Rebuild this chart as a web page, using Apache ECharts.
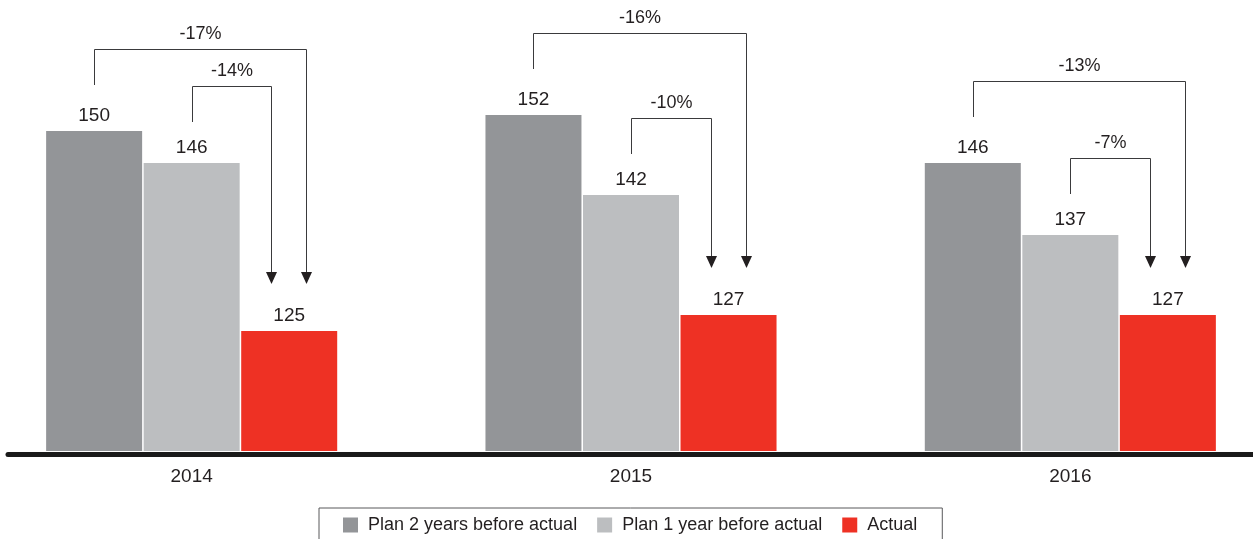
<!DOCTYPE html>
<html>
<head>
<meta charset="utf-8">
<title>Plan vs actual</title>
<script src="https://cdn.jsdelivr.net/npm/echarts@6/dist/echarts.min.js"></script>
<style>
  html, body { margin: 0; padding: 0; background: #fff; }
  #chart { width: 1253px; height: 539px; }
</style>
</head>
<body>
<div id="chart"></div>
<script>
// data
const years = ['2014', '2015', '2016']
const plan2Years = [150, 152, 146]
const plan1Year = [146, 142, 137]
const actual = [125, 127, 127]
const outerDelta = ['-17%', '-16%', '-13%']
const innerDelta = ['-14%', '-10%', '-7%']
const seriesNames = ['Plan 2 years before actual', 'Plan 1 year before actual', 'Actual']

const FONT = '"Liberation Sans", Arial, sans-serif'
const TEXT = '#231f20'
const LINE = '#3a3a3c'
const BAR_W = 96
const BAR_GAP = '1.6%'
const STEP = BAR_W * 1.016

const bracketData = years.map((y, i) => [i, plan2Years[i], plan1Year[i], actual[i]])

const crisp = v => Math.round(v) + 0.5

function bracket(x0, yStart, yTop, x1, yTip, text) {
  const a = crisp(x0)
  const b = crisp(x1)
  const top = crisp(yTop)
  return [{
    type: 'polyline',
    shape: { points: [[a, yStart], [a, top], [b, top], [b, yTip - 11]] },
    style: { stroke: LINE, lineWidth: 1, fill: null }
  }, {
    type: 'polygon',
    shape: { points: [[b, yTip], [b - 5.5, yTip - 12], [b + 5.5, yTip - 12]] },
    style: { fill: TEXT }
  }, {
    type: 'text',
    style: {
      text: text,
      x: (a + b) / 2,
      y: top - 15,
      align: 'center',
      verticalAlign: 'middle',
      font: '18px ' + FONT,
      fill: TEXT
    }
  }]
}

function renderBrackets(params, api) {
  const i = api.value(0)
  const cx = api.coord([i, 130])[0]
  const yP2 = api.coord([i, api.value(1)])[1]
  const yP1 = api.coord([i, api.value(2)])[1]
  const yAct = api.coord([i, api.value(3)])[1]
  const xP2 = cx - STEP
  const xAct = cx + STEP
  const tip = yAct - 47
  return {
    type: 'group',
    children: [
      ...bracket(xP2, yP2 - 46, yP2 - 82, xAct + 17, tip, outerDelta[i]),
      ...bracket(cx, yP1 - 41, yP1 - 77, xAct - 18, tip, innerDelta[i])
    ]
  }
}

const barLabel = {
  show: true,
  position: 'top',
  distance: 6,
  fontFamily: FONT,
  fontSize: 19,
  color: TEXT
}

const chart = echarts.init(document.getElementById('chart'), null, { renderer: 'canvas' })

chart.setOption({
  animation: false,
  backgroundColor: '#fff',
  color: ['#939598', '#bcbec0', '#ee3124'],
  grid: [{
    left: -28,
    right: -37,
    top: 51,
    bottom: 88,
    outerBoundsMode: 'none'
  }, {
    left: 8,
    right: 0,
    top: 51,
    bottom: 85,
    outerBoundsMode: 'none'
  }],
  legend: {
    data: seriesNames,
    left: 319,
    top: 508,
    padding: [8, 25, 12, 24],
    borderColor: '#58595b',
    borderWidth: 1,
    icon: 'rect',
    itemWidth: 15,
    itemHeight: 15,
    itemGap: 20,
    selectedMode: false,
    textStyle: {
      fontFamily: FONT,
      fontSize: 18,
      lineHeight: 18,
      color: TEXT,
      padding: [0, 0, 0, 5]
    }
  },
  xAxis: [{
    type: 'category',
    gridIndex: 0,
    data: years,
    axisLine: { show: false },
    axisTick: { show: false },
    axisLabel: {
      margin: 16,
      fontFamily: FONT,
      fontSize: 19,
      color: TEXT
    }
  }, {
    type: 'value',
    gridIndex: 1,
    min: 0,
    max: 1,
    axisLine: { show: true, lineStyle: { color: '#1a1a1a', width: 5 } },
    axisTick: { show: false },
    axisLabel: { show: false },
    splitLine: { show: false }
  }],
  yAxis: [{
    type: 'value',
    gridIndex: 0,
    min: 110,
    max: 160,
    show: false
  }, {
    type: 'value',
    gridIndex: 1,
    min: 0,
    max: 1,
    show: false
  }],
  series: [{
    name: seriesNames[0],
    type: 'bar',
    data: plan2Years,
    barWidth: BAR_W,
    barGap: BAR_GAP,
    label: barLabel
  }, {
    name: seriesNames[1],
    type: 'bar',
    data: plan1Year,
    barWidth: BAR_W,
    barGap: BAR_GAP,
    label: barLabel
  }, {
    name: seriesNames[2],
    type: 'bar',
    data: actual,
    barWidth: BAR_W,
    barGap: BAR_GAP,
    label: barLabel
  }, {
    name: 'brackets',
    type: 'custom',
    renderItem: renderBrackets,
    data: bracketData,
    clip: false,
    silent: true,
    z: 5
  }]
})
</script>
</body>
</html>
